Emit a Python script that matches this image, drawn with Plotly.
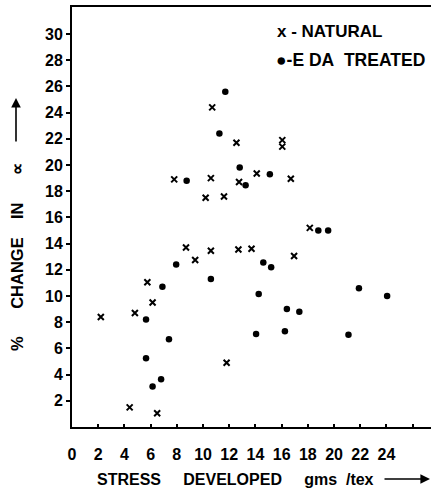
import plotly.graph_objects as go

# Data
natural_x = [2.2, 4.4, 4.8, 5.75, 6.15, 6.5, 7.8, 8.7, 9.4, 10.2, 10.6, 10.6, 10.7, 11.6, 11.8,
             12.55, 12.7, 12.75, 13.7, 14.1, 16.05, 16.05, 16.7, 16.95, 18.15]
natural_y = [8.4, 1.5, 8.7, 11.05, 9.5, 1.05, 18.9, 13.7, 12.75, 17.5, 19.0, 13.45, 24.4, 17.6, 4.9,
             21.7, 13.55, 18.7, 13.6, 19.35, 21.9, 21.4, 18.95, 13.05, 15.2]

eda_x = [5.65, 5.65, 6.15, 6.8, 6.9, 7.4, 7.95, 8.75, 10.6, 11.25, 11.7, 12.8, 13.25, 14.05, 14.25,
         14.6, 15.1, 15.2, 16.25, 16.4, 17.35, 18.8, 19.55, 21.1, 21.9, 24.05]
eda_y = [8.2, 5.25, 3.1, 3.65, 10.7, 6.7, 12.4, 18.8, 11.3, 22.4, 25.6, 19.8, 18.45, 7.1, 10.15,
         12.55, 19.3, 12.2, 7.3, 9.0, 8.8, 15.0, 15.0, 7.05, 10.6, 10.0]

x_ticks = list(range(0, 27, 2))
x_ticktext = [str(v) if v <= 24 else "" for v in x_ticks]
y_ticks = list(range(2, 31, 2))
y_ticktext = [str(v) for v in y_ticks]

FONT = "Liberation Sans"
INK = "#000000"

fig = go.Figure()
fig.add_trace(go.Scatter(x=natural_x, y=natural_y, mode="markers", name="NATURAL",
                         marker=dict(symbol="x-thin", size=6, line=dict(width=2, color=INK), color=INK)))
fig.add_trace(go.Scatter(x=eda_x, y=eda_y, mode="markers", name="EDA TREATED",
                         marker=dict(symbol="circle", size=6.5, color=INK)))

L, R, T, B = 72, 0, 7, 67
W, H = 431, 494
fig.update_layout(
    width=W, height=H,
    margin=dict(l=L, r=R, t=T, b=B),
    paper_bgcolor="white", plot_bgcolor="white",
    showlegend=False,
    font=dict(family=FONT, color=INK, size=14),
)
fig.update_xaxes(range=[0, 27.4], tickvals=x_ticks, ticktext=x_ticktext,
                 showline=True, linecolor=INK, linewidth=2, mirror=True,
                 ticks="inside", ticklen=3, tickcolor=INK, tickwidth=1.5,
                 showgrid=False, zeroline=False, ticklabelstandoff=12,
                 tickfont=dict(family=FONT, size=16, color=INK, weight="bold"))
fig.update_yaxes(range=[0, 32.06], tickvals=y_ticks, ticktext=y_ticktext,
                 showline=True, linecolor=INK, linewidth=2,
                 ticks="outside", ticklen=4, tickcolor=INK, tickwidth=1.5,
                 showgrid=False, zeroline=False,
                 tickfont=dict(family=FONT, size=16, color=INK, weight="bold"))

PW = W - L - R
PH = H - T - B
def px(xp):
    return (xp - L) / PW
def py(yp):
    return (H - B - yp) / PH

sp = "\u00a0"
# Legend text
fig.add_annotation(x=px(275), y=py(31), xref="paper", yref="paper", xanchor="left", yanchor="middle",
                   text="x" + sp + "-" + sp + "NATURAL", showarrow=False,
                   font=dict(family=FONT, size=17, color=INK, weight="bold"))
fig.add_annotation(x=px(274), y=py(60), xref="paper", yref="paper", xanchor="left", yanchor="middle",
                   text="\u25cf-E" + sp + "DA" + sp * 2 + "TREATED", showarrow=False,
                   font=dict(family=FONT, size=17.5, color=INK, weight="bold"))

# X title
fig.add_annotation(x=px(95), y=py(479), xref="paper", yref="paper", xanchor="left", yanchor="middle",
                   text="STRESS" + sp * 5 + "DEVELOPED" + sp * 5 + "gms" + sp * 2 + "/tex", showarrow=False,
                   font=dict(family=FONT, size=16, color=INK, weight="bold"))
fig.add_annotation(x=px(430), y=py(479), ax=-47, ay=0, xref="paper", yref="paper",
                   axref="pixel", ayref="pixel", text="", showarrow=True,
                   arrowhead=2, arrowsize=1.2, arrowwidth=1.6, arrowcolor=INK)

# Y title
fig.add_annotation(x=px(17), y=py(257), xref="paper", yref="paper", xanchor="center", yanchor="middle",
                   text="%" + sp * 6 + "CHANGE" + sp * 4 + "IN" + sp * 6 + "\u221d", showarrow=False,
                   textangle=-90, font=dict(family=FONT, size=16.5, color=INK, weight="bold"))
fig.add_annotation(x=px(16), y=py(98), ax=0, ay=45, xref="paper", yref="paper",
                   axref="pixel", ayref="pixel", text="", showarrow=True,
                   arrowhead=2, arrowsize=1.2, arrowwidth=1.6, arrowcolor=INK)

fig.write_html("out.html")
